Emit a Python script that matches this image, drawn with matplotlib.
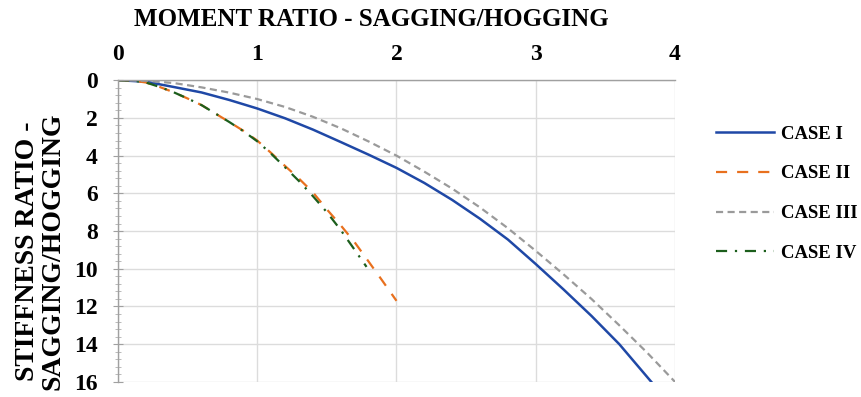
import matplotlib
matplotlib.use("Agg")
import matplotlib.pyplot as plt
from matplotlib.ticker import MultipleLocator

# values
case1_x = [0, 0.2, 0.4, 0.6, 0.8, 1.0, 1.2, 1.4, 1.6, 1.8, 2.0, 2.2, 2.4, 2.6,
           2.8, 3.0, 3.2, 3.4, 3.6, 3.83]
case1_y = [0, 0.08, 0.36, 0.65, 1.05, 1.5, 2.02, 2.62, 3.28, 3.95, 4.65, 5.45,
           6.35, 7.35, 8.45, 9.75, 11.1, 12.5, 14.0, 16.0]

case2_x = [0, 0.1, 0.2, 0.3, 0.4, 0.5, 0.6, 0.7, 0.8, 0.9, 1.0, 1.1, 1.2, 1.3,
           1.4, 1.5, 1.6, 1.7, 1.8, 1.9, 2.0]
case2_y = [0, 0.02, 0.12, 0.36, 0.64, 0.97, 1.32, 1.77, 2.22, 2.68, 3.2, 3.86,
           4.55, 5.22, 5.95, 6.85, 7.7, 8.6, 9.62, 10.65, 11.7]

case3_x = [0, 0.2, 0.4, 0.6, 0.8, 1.0, 1.2, 1.4, 1.6, 1.8, 2.0, 2.2, 2.4, 2.6,
           2.8, 3.0, 3.2, 3.4, 3.6, 3.8, 4.0]
case3_y = [0, 0.03, 0.15, 0.38, 0.66, 1.0, 1.42, 1.94, 2.55, 3.25, 4.0, 4.85,
           5.75, 6.75, 7.85, 9.05, 10.3, 11.6, 13.0, 14.45, 16.0]

case4_x = [0, 0.1, 0.2, 0.3, 0.4, 0.5, 0.6, 0.7, 0.8, 0.9, 1.0, 1.1, 1.2, 1.3,
           1.4, 1.5, 1.6, 1.7, 1.785]
case4_y = [0, 0.02, 0.12, 0.36, 0.64, 0.97, 1.32, 1.77, 2.22, 2.7, 3.24, 3.9,
           4.62, 5.35, 6.15, 7.0, 7.95, 9.0, 9.9]

labels = ["CASE I", "CASE II", "CASE III", "CASE IV"]

font = "Liberation Serif"
plt.rcParams["font.family"] = [font, "DejaVu Serif"]
plt.rcParams["font.weight"] = "bold"

fig = plt.figure(figsize=(8.61, 3.97), dpi=100)
ax = fig.add_axes([0.137, 0.038, 0.647, 0.76])

ax.plot(case1_x, case1_y, color="#1F48A6", lw=1.8, label=labels[0])
ax.plot(case2_x, case2_y, color="#E8701E", lw=1.6, dashes=(5, 4.5), label=labels[1])
ax.plot(case3_x, case3_y, color="#9A9A9A", lw=1.6, dashes=(3.2, 2), label=labels[2])
ax.plot(case4_x, case4_y, color="#1C5E1C", lw=1.6, dashes=(5, 3.5, 1, 3.5), label=labels[3])

ax.set_xlim(0, 4)
ax.set_ylim(16, 0)
ax.xaxis.tick_top()
ax.xaxis.set_label_position("top")
ax.xaxis.set_major_locator(MultipleLocator(1))
ax.yaxis.set_major_locator(MultipleLocator(2))
ax.yaxis.set_minor_locator(MultipleLocator(0.4))

ax.grid(True, which="major", color="#DCDCDC", lw=1.0)
ax.set_axisbelow(True)
for s in ["right", "bottom"]:
    ax.spines[s].set_visible(False)
for s in ["top", "left"]:
    ax.spines[s].set_color("#A0A0A0")
    ax.spines[s].set_linewidth(1.0)

ax.tick_params(axis="x", which="both", length=0, pad=11, labelsize=17)
ax.tick_params(axis="y", which="major", direction="inout", length=7, color="#A0A0A0",
               pad=11, labelsize=17)
ax.tick_params(axis="y", which="minor", direction="inout", length=5, color="#B0B0B0")

ax.set_xlabel("MOMENT RATIO - SAGGING/HOGGING", fontsize=18, fontweight="bold")
ax.xaxis.set_label_coords(0.455, 1.178)
fig.text(40 / 861, 1 - 251 / 397, "STIFFNESS RATIO -\nSAGGING/HOGGING", fontsize=20,
         fontweight="bold", rotation=90, ha="center", va="center",
         multialignment="center", linespacing=1.05)

ax.legend(loc="upper left", bbox_to_anchor=(1.043, 0.905), frameon=False,
          handlelength=3.1, handletextpad=0.36, labelspacing=1.2,
          prop={"family": font, "weight": "bold", "size": 13.5})

fig.savefig("out.png", dpi=100)
